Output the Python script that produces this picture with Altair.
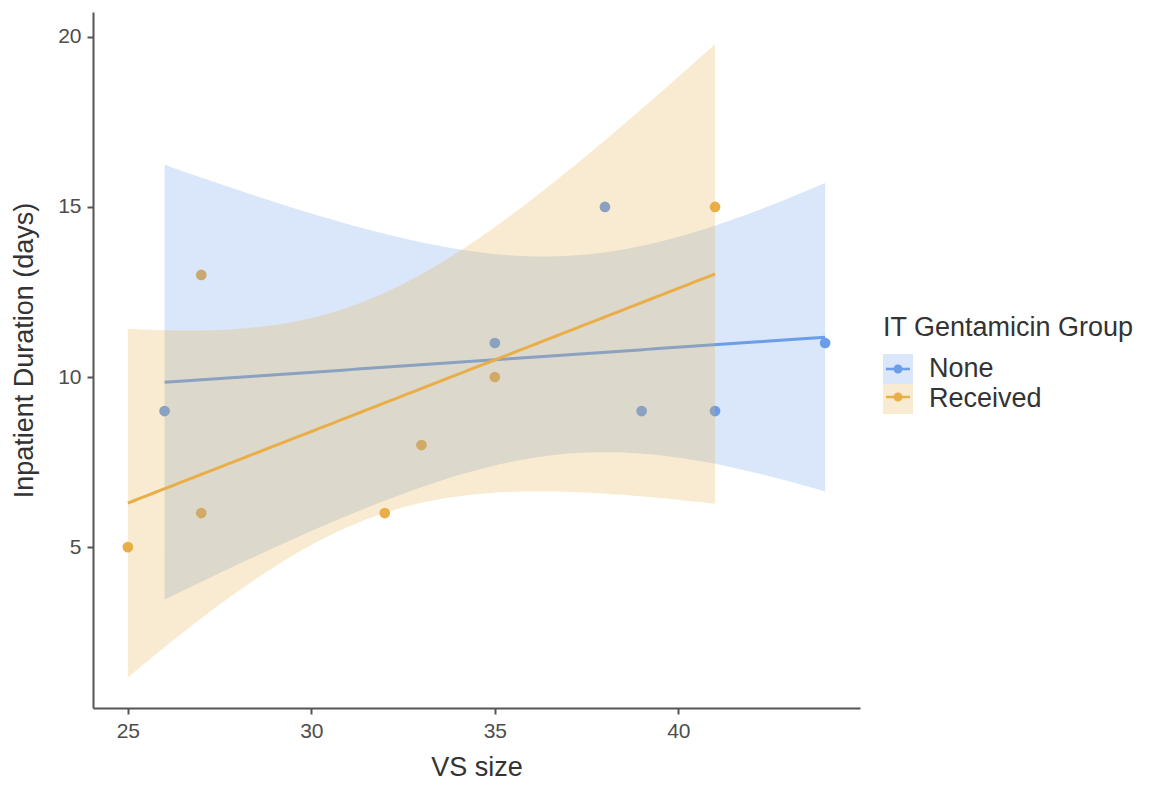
import altair as alt
import numpy as np
import pandas as pd

# ---- data ----
none_x = [26, 35, 38, 39, 41, 44]
none_y = [9, 11, 15, 9, 9, 11]
rec_x = [25, 27, 27, 32, 33, 35, 41]
rec_y = [5, 13, 6, 6, 8, 10, 15]
groups = ["None", "Received"]
colors = ["#6b9de8", "#e9ae48"]
x_ticks = [25, 30, 35, 40]
y_ticks = [5, 10, 15, 20]
x_limits = [24.05, 44.95]
y_limits = [0.27, 20.73]

# two-sided 95% Student t quantiles by residual degrees of freedom
T95 = {4: 2.776445, 5: 2.570582}


def smooth(xs, ys, name, n_grid=90):
    x = np.asarray(xs, float)
    y = np.asarray(ys, float)
    n = len(x)
    mx = x.mean()
    sxx = ((x - mx) ** 2).sum()
    b = ((x - mx) * (y - y.mean())).sum() / sxx
    a = y.mean() - b * mx
    s = np.sqrt(((y - (a + b * x)) ** 2).sum() / (n - 2))
    g = np.linspace(x.min(), x.max(), n_grid)
    fit = a + b * g
    se = s * np.sqrt(1 / n + (g - mx) ** 2 / sxx)
    t = T95[n - 2]
    return pd.DataFrame({"x": g, "fit": fit, "lo": fit - t * se, "hi": fit + t * se,
                         "group": name, "grp_l": name})


pts = pd.DataFrame({
    "x": none_x + rec_x,
    "y": none_y + rec_y,
    "grp": ["None"] * len(none_x) + ["Received"] * len(rec_x),
})
fits = pd.concat([smooth(none_x, none_y, "None"), smooth(rec_x, rec_y, "Received")],
                 ignore_index=True)

FONT = "Liberation Sans"
xscale = alt.Scale(domain=x_limits, nice=False, zero=False)
yscale = alt.Scale(domain=y_limits, nice=False, zero=False)

common_axis = dict(grid=False, tickSize=6, tickWidth=2, domainWidth=2,
                   domainColor="#555555", tickColor="#555555",
                   labelFont=FONT, labelFontSize=21, labelColor="#4d4d4d",
                   titleFont=FONT, titleFontSize=27, titleFontWeight="normal",
                   titleColor="#333333", labelPadding=6)

X = alt.X("x:Q", scale=xscale,
          axis=alt.Axis(values=x_ticks, title="VS size", titleY=67,
                        titleBaseline="alphabetic", **common_axis))
Y = alt.Y("y:Q", scale=yscale,
          axis=alt.Axis(values=y_ticks, title="Inpatient Duration (days)",
                        titleX=-61, titleY=338, titleBaseline="alphabetic",
                        **common_axis))

legend_common = dict(orient="none", legendX=790, legendY=303, padding=0,
                     titleFont=FONT, titleFontSize=27, titleFontWeight="normal",
                     titleColor="#333333", labelFont=FONT, labelFontSize=27,
                     labelColor="#333333", symbolSize=900, labelOffset=16,
                     rowPadding=0, titlePadding=12, title="IT Gentamicin Group",
                     titleLimit=500, labelLimit=400, symbolStrokeWidth=0)

points = alt.Chart(pts).mark_circle(size=115, opacity=1).encode(
    x=X, y=Y,
    fill=alt.Fill("grp:N", scale=alt.Scale(range=colors),
                  legend=alt.Legend(
                      symbolType="M-0.8,-0.08H0.8V0.08H-0.8Z M0.3,0A0.3,0.3 0 1 1 -0.3,0A0.3,0.3 0 1 1 0.3,0Z",
                      symbolOpacity=1, titleOpacity=0, labelOpacity=0, zindex=2,
                      **legend_common)),
)


def band(name):
    return alt.Chart(fits).transform_filter(alt.datum.group == name).mark_area(
        opacity=0.25).encode(
        x=alt.X("x:Q", scale=xscale),
        y=alt.Y("lo:Q", scale=yscale),
        y2="hi:Q",
        color=alt.Color("group:N", scale=alt.Scale(range=colors),
                        legend=alt.Legend(symbolType="square", symbolOpacity=0.25,
                                          zindex=1, **legend_common)),
    )


def line(name):
    return alt.Chart(fits).transform_filter(alt.datum.grp_l == name).mark_line(
        strokeWidth=3).encode(
        x=alt.X("x:Q", scale=xscale),
        y=alt.Y("fit:Q", scale=yscale),
        stroke=alt.Stroke("grp_l:N", scale=alt.Scale(range=colors), legend=None),
    )


chart = alt.layer(
    points, band("None"), line("None"), band("Received"), line("Received")
).properties(
    width=767, height=696,
    background="white",
    autosize=alt.AutoSizeParams(type="none"),
    padding={"left": 85, "top": 4, "right": 285, "bottom": 73},
).configure_view(strokeWidth=0)

chart.save("out.html", embed_options={"renderer": "svg", "actions": False})
